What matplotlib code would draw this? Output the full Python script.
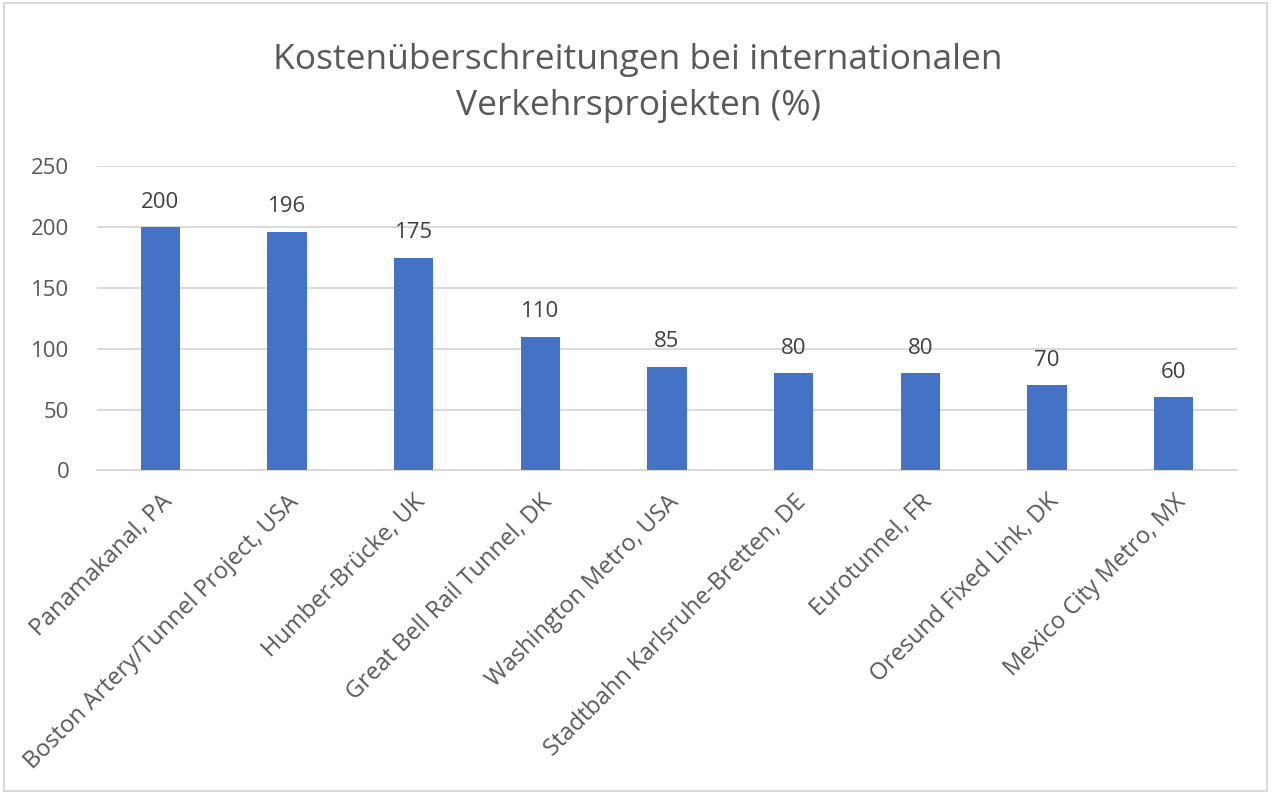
import matplotlib.pyplot as plt

projects = [
    "Panamakanal, PA",
    "Boston Artery/Tunnel Project, USA",
    "Humber-Brücke, UK",
    "Great Bell Rail Tunnel, DK",
    "Washington Metro, USA",
    "Stadtbahn Karlsruhe-Bretten, DE",
    "Eurotunnel, FR",
    "Oresund Fixed Link, DK",
    "Mexico City Metro, MX",
]
overrun = [200, 196, 175, 110, 85, 80, 80, 70, 60]
yticks = [0, 50, 100, 150, 200, 250]

plt.rcParams['font.family'] = ['Open Sans', 'DejaVu Sans']
text_col = "#595959"
bar_col = "#4472C4"
grid_col = "#D9D9D9"

fig = plt.figure(figsize=(12.76, 7.96), dpi=100)
ax = fig.add_axes([0.076, 0.409, 0.8934, 0.382])

x = range(len(projects))
bars = ax.bar(x, overrun, width=0.31, color=bar_col, zorder=3)
for xi, v in zip(x, overrun):
    ax.text(xi, v + 12, str(v), ha="center", va="bottom", fontsize=16, color="#404040")

ax.set_xlim(-0.5, len(projects) - 0.5)
ax.set_ylim(0, 250)
ax.set_yticks(yticks)
ax.set_yticklabels([str(t) for t in yticks], fontsize=16, color=text_col)
ax.set_xticks(list(x))
ax.set_xticklabels(projects, rotation=45, ha="right", rotation_mode="anchor",
                   fontsize=17, color=text_col)
ax.tick_params(axis="both", length=0)
ax.tick_params(axis="y", pad=20)
ax.tick_params(axis="x", pad=14)
ax.grid(axis="y", color=grid_col, linewidth=1.3, zorder=0)
for s in ["top", "right", "left"]:
    ax.spines[s].set_visible(False)
ax.spines["bottom"].set_color(grid_col)
ax.spines["bottom"].set_linewidth(1.3)

fig.text(0.5, 0.896, "Kostenüberschreitungen bei internationalen\nVerkehrsprojekten (%)",
         ha="center", va="center", fontsize=25.5, color=text_col, linespacing=1.45)

# light frame around the chart
fig.add_artist(plt.Rectangle((0.003, 0.006), 0.99, 0.99, transform=fig.transFigure,
                             fill=False, edgecolor="#D9D9D9", linewidth=1.5))

fig.savefig("out.png", dpi=100)
